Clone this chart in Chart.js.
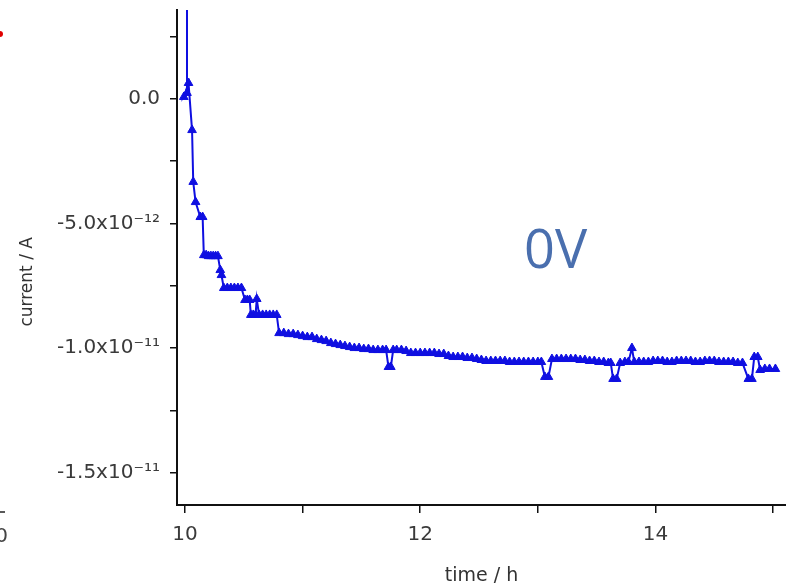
<!DOCTYPE html>
<html>
<head>
<meta charset="utf-8">
<script src="https://cdn.jsdelivr.net/npm/chart.js@4"></script>
<style>
  body { margin: 0; background: #fff; }
  .container { width: 786px; height: 588px; position: relative; }
</style>
</head>
<body>
<div class="container"><canvas id="myChart"></canvas></div>
<script>
// time in hours
const timeH = [
  10.017, 10.017, 9.99, 10.03, 10.06, 10.07, 10.09, 10.13, 10.15, 10.16,
  10.18, 10.20, 10.22, 10.24, 10.26, 10.28, 10.30, 10.31, 10.33, 10.36,
  10.39, 10.42, 10.45, 10.48, 10.51, 10.53, 10.55, 10.56, 10.58, 10.60,
  10.61, 10.63, 10.66, 10.69, 10.72, 10.75, 10.78,
  10.80, 10.84, 10.88, 10.92, 10.96, 11.00, 11.04, 11.08, 11.12, 11.16,
  11.20, 11.24, 11.28, 11.32, 11.36, 11.40, 11.44, 11.48, 11.52, 11.56,
  11.60, 11.64, 11.68, 11.71, 11.73, 11.75, 11.77, 11.80, 11.84, 11.88,
  11.92, 11.96, 12.00, 12.04, 12.08, 12.12, 12.16, 12.20, 12.24, 12.28,
  12.32, 12.36, 12.40, 12.44, 12.48, 12.52, 12.56, 12.60, 12.64, 12.68,
  12.72, 12.76, 12.80, 12.84, 12.88, 12.92, 12.96, 13.00, 13.03, 13.06,
  13.09, 13.12, 13.16, 13.20, 13.24, 13.28, 13.32, 13.36, 13.40, 13.44,
  13.48, 13.52, 13.56, 13.60, 13.62, 13.64, 13.67, 13.70, 13.74, 13.77,
  13.80, 13.82, 13.86, 13.90, 13.94, 13.98, 14.02, 14.06, 14.10, 14.14,
  14.18, 14.22, 14.26, 14.30, 14.34, 14.38, 14.42, 14.46, 14.50, 14.54,
  14.58, 14.62, 14.66, 14.70, 14.74, 14.79, 14.82, 14.84, 14.87, 14.89,
  14.93, 14.97, 15.02];

// current in pA (x1e-12 A)
const currentPA = [
  6.0, 0.24, 0.08, 0.64, -1.25, -3.33, -4.14, -4.74, -4.74, -6.27,
  -6.27, -6.31, -6.31, -6.31, -6.31, -6.31, -6.87, -7.07, -7.59, -7.59,
  -7.59, -7.59, -7.59, -7.59, -8.07, -8.07, -8.07, -8.67, -8.67, -8.67,
  -8.03, -8.67, -8.67, -8.67, -8.67, -8.67, -8.67,
  -9.40, -9.40, -9.44, -9.44, -9.48, -9.52, -9.56, -9.56, -9.64, -9.68,
  -9.72, -9.80, -9.84, -9.88, -9.92, -9.96, -10.0, -10.0, -10.04, -10.04,
  -10.08, -10.08, -10.08, -10.08, -10.76, -10.76, -10.08, -10.08, -10.08, -10.12,
  -10.2, -10.2, -10.2, -10.2, -10.2, -10.2, -10.24, -10.24, -10.32, -10.36,
  -10.36, -10.36, -10.40, -10.40, -10.44, -10.48, -10.52, -10.52, -10.52, -10.52,
  -10.52, -10.56, -10.56, -10.56, -10.56, -10.56, -10.56, -10.56, -10.56, -11.16,
  -11.16, -10.44, -10.44, -10.44, -10.44, -10.44, -10.44, -10.48, -10.48, -10.52,
  -10.52, -10.56, -10.56, -10.60, -10.60, -11.24, -11.24, -10.60, -10.56, -10.56,
  -10.0, -10.56, -10.56, -10.56, -10.56, -10.52, -10.52, -10.52, -10.56, -10.56,
  -10.52, -10.52, -10.52, -10.52, -10.56, -10.56, -10.52, -10.52, -10.52, -10.56,
  -10.56, -10.56, -10.56, -10.60, -10.60, -11.24, -11.24, -10.36, -10.36, -10.88,
  -10.84, -10.84, -10.84];

const xTicks = [10, 11, 12, 13, 14, 15];
const xLabels = ['10', '', '12', '', '14', ''];
const yTicks = [2.5e-12, 0, -2.5e-12, -5e-12, -7.5e-12, -1e-11, -1.25e-11, -1.5e-11];
const yLabels = ['', '0.0', '', '-5.0x10⁻¹²', '', '-1.0x10⁻¹¹', '', '-1.5x10⁻¹¹'];

const ctx = document.getElementById('myChart');
const blue = 'rgb(15,15,225)';

const extras = {
  id: 'extras',
  afterDraw(chart) {
    const c = chart.ctx;
    c.save();
    c.fillStyle = '#4a6fae';
    c.font = '54px "Open Sans"';
    c.textAlign = 'left';
    c.textBaseline = 'alphabetic';
    c.fillText('0V', 524, 268);
    // pieces of the neighbouring panel at the left edge
    c.fillStyle = '#e00000';
    c.beginPath();
    c.arc(0, 34, 3, 0, Math.PI * 2);
    c.fill();
    c.strokeStyle = '#222';
    c.lineWidth = 1.5;
    c.beginPath();
    c.moveTo(0, 512);
    c.lineTo(5, 512);
    c.stroke();
    c.fillStyle = '#444';
    c.font = '20px "DejaVu Sans"';
    c.textAlign = 'right';
    c.fillText('0', 8, 542);
    c.restore();
  }
};

new Chart(ctx, {
  type: 'line',
  data: {
    datasets: [{
      label: 'current',
      data: timeH.map((t, i) => ({ x: t, y: currentPA[i] * 1e-12 })),
      borderColor: blue,
      backgroundColor: blue,
      borderWidth: 2,
      pointStyle: 'triangle',
      pointRadius: 5,
      pointBorderWidth: 1,
      tension: 0
    }]
  },
  options: {
    responsive: true,
    maintainAspectRatio: false,
    animation: false,
    layout: { autoPadding: false, padding: { top: 10, left: 0, right: 0, bottom: 0 } },
    plugins: {
      legend: { display: false },
      tooltip: { enabled: false }
    },
    scales: {
      x: {
        type: 'linear',
        min: 9.932,
        max: 15.11,
        afterFit: (scale) => {
          scale.height = 83;
          scale.paddingLeft = 0;
          scale.paddingRight = 0;
        },
        afterBuildTicks: (scale) => { scale.ticks = xTicks.map(v => ({ value: v })); },
        border: { color: '#111', width: 2 },
        grid: { drawOnChartArea: false, color: '#111', tickLength: 8, lineWidth: 1.5 },
        ticks: {
          color: '#3a3a3a',
          font: { family: 'DejaVu Sans', size: 20 },
          padding: 10,
          maxRotation: 0,
          autoSkip: false,
          callback: (v, i) => xLabels[i]
        },
        title: {
          display: true,
          text: 'time / h',
          color: '#333',
          font: { family: 'DejaVu Sans', size: 19 },
          padding: { top: 0, bottom: 1 }
        }
      },
      y: {
        type: 'linear',
        min: -1.63e-11,
        max: 3.57e-12,
        afterFit: (scale) => {
          scale.width = 177;
          scale.paddingTop = 0;
          scale.paddingBottom = 0;
        },
        afterBuildTicks: (scale) => { scale.ticks = yTicks.map(v => ({ value: v })); },
        border: { color: '#111', width: 2 },
        grid: { drawOnChartArea: false, color: '#111', tickLength: 7, lineWidth: 1.5 },
        ticks: {
          color: '#3a3a3a',
          font: { family: 'DejaVu Sans', size: 20 },
          padding: 10,
          autoSkip: false,
          callback: (v, i) => yLabels[i]
        },
        title: {
          display: true,
          text: 'current / A\u00a0\u00a0\u00a0\u00a0\u00a0\u00a0\u00a0\u00a0\u00a0',
          color: '#333',
          font: { family: 'DejaVu Sans', size: 17 },
          padding: { top: 17, bottom: 0 }
        }
      }
    }
  },
  plugins: [extras]
});
</script>
</body>
</html>
